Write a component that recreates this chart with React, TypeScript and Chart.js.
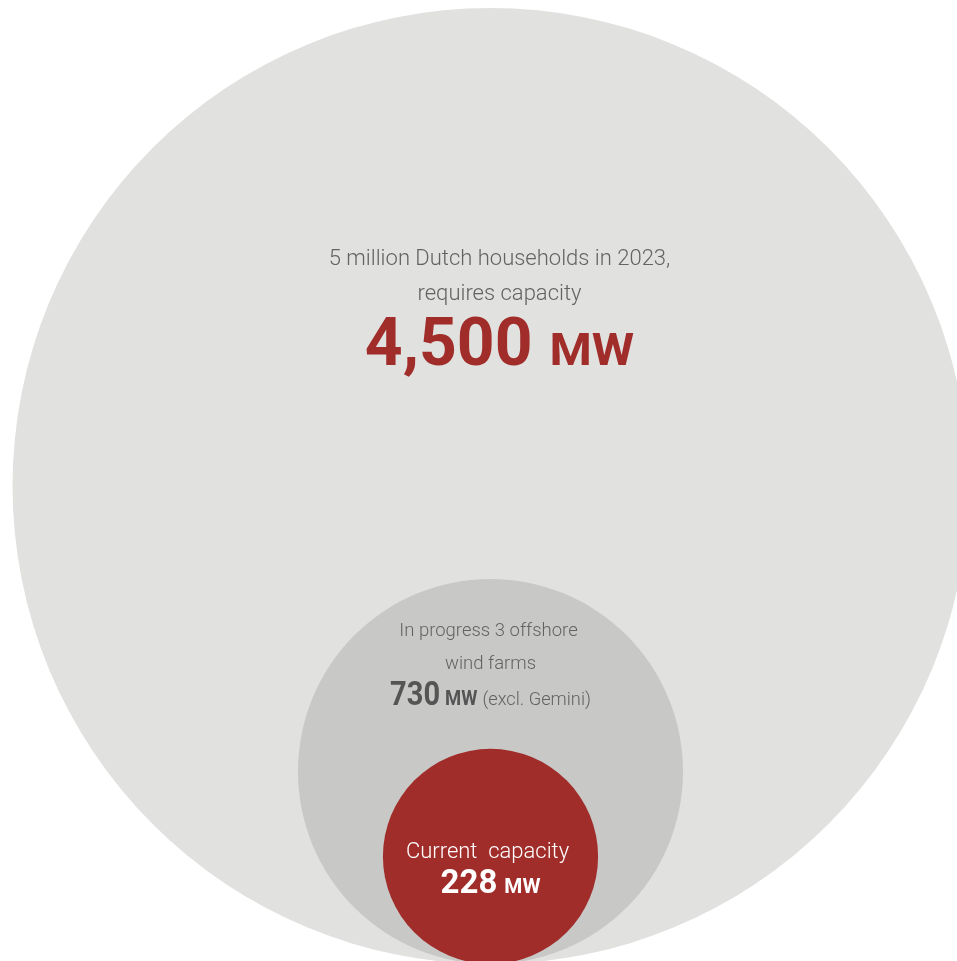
import React, { useEffect, useRef } from "react";
import { Chart, registerables } from "chart.js";

Chart.register(...registerables);

// ---- data ----
const categories = ["Dutch households 2023", "In progress offshore wind", "Current capacity"];
const capacityMW = [4500, 730, 228];
const colors = ["#e1e1e0", "#c8c8c7", "#a12d2b"];

const W = 957;
const H = 961;
const MAX_R = 478;

const FONT = "Roboto, 'DejaVu Sans', sans-serif";

type Run = { text: string; size: number; weight: string; color: string; sx?: number };

function drawRuns(ctx: CanvasRenderingContext2D, runs: Run[], cx: number, baseline: number, gap = 0) {
  let total = 0;
  const widths = runs.map((r) => {
    ctx.font = `${r.weight} ${r.size}px ${FONT}`;
    const w = ctx.measureText(r.text).width * (r.sx ?? 1);
    total += w;
    return w;
  });
  total += gap * (runs.length - 1);
  let x = cx - total / 2;
  runs.forEach((r, i) => {
    ctx.save();
    ctx.font = `${r.weight} ${r.size}px ${FONT}`;
    ctx.fillStyle = r.color;
    ctx.textAlign = "left";
    ctx.textBaseline = "alphabetic";
    ctx.translate(x, baseline);
    ctx.scale(r.sx ?? 1, 1);
    ctx.fillText(r.text, 0, 0);
    ctx.restore();
    x += widths[i] + gap;
  });
}

const fmt = (v: number) => v.toLocaleString("en-US");

const labelPlugin = {
  id: "bubbleLabels",
  afterDatasetsDraw(chart: any) {
    const ctx: CanvasRenderingContext2D = chart.ctx;
    const meta = chart.getDatasetMeta(0);
    const [big, mid, small] = meta.data;
    const grey = "#636363";
    const red = "#a12d2b";
    ctx.save();
    // big circle
    drawRuns(ctx, [{ text: "5 million Dutch households in 2023,", size: 22, weight: "300", color: grey }], big.x + 9, big.y - 221);
    drawRuns(ctx, [{ text: "requires capacity", size: 22, weight: "300", color: grey }], big.x + 9, big.y - 186);
    drawRuns(
      ctx,
      [
        { text: fmt(capacityMW[0]), size: 66, weight: "bold", color: red },
        { text: "MW", size: 44, weight: "bold", color: red, sx: 1.1 },
      ],
      big.x + 9,
      big.y - 121,
      17
    );
    // middle circle
    drawRuns(ctx, [{ text: "In progress 3 offshore", size: 18.5, weight: "300", color: grey }], mid.x - 2, mid.y - 135);
    drawRuns(ctx, [{ text: "wind farms", size: 18.5, weight: "300", color: grey }], mid.x, mid.y - 102);
    drawRuns(
      ctx,
      [
        { text: fmt(capacityMW[1]), size: 33, weight: "bold", color: "#555555", sx: 0.88 },
        { text: "MW", size: 21, weight: "bold", color: "#555555", sx: 0.88 },
        { text: "(excl. Gemini)", size: 19, weight: "300", color: grey, sx: 0.96 },
      ],
      mid.x,
      mid.y - 66,
      5
    );
    // small circle
    drawRuns(ctx, [{ text: "Current  capacity", size: 22, weight: "300", color: "#ffffff" }], small.x - 3, small.y + 2);
    drawRuns(
      ctx,
      [
        { text: fmt(capacityMW[2]), size: 33, weight: "bold", color: "#ffffff" },
        { text: "MW", size: 20, weight: "bold", color: "#ffffff", sx: 1.03 },
      ],
      small.x,
      small.y + 37,
      7
    );
    ctx.restore();
  },
};

export default function App() {
  const ref = useRef<HTMLCanvasElement | null>(null);
  useEffect(() => {
    if (!ref.current) return;
    const maxV = Math.max(...capacityMW);
    const radii = capacityMW.map((v) => MAX_R * Math.sqrt(v / maxV));
    const chart = new Chart(ref.current, {
      type: "bubble",
      data: {
        labels: categories,
        datasets: [
          {
            label: "Capacity (MW)",
            data: capacityMW.map((v, i) => ({ x: 490.5, y: radii[i], r: radii[i] })),
            backgroundColor: colors,
            borderWidth: 0,
            hoverBorderWidth: 0,
          },
        ],
      },
      options: {
        responsive: false,
        animation: false,
        events: [],
        layout: { padding: 0, autoPadding: false },
        plugins: { legend: { display: false }, tooltip: { enabled: false }, title: { display: false } },
        scales: {
          x: { type: "linear", min: 0, max: W, display: false },
          y: { type: "linear", min: 3, max: H + 3, display: false },
        },
      },
      plugins: [labelPlugin],
    });
    return () => chart.destroy();
  }, []);
  return (
    <div style={{ position: "fixed", left: 0, top: 0, width: W, height: H, background: "#fff" }}>
      <canvas ref={ref} width={W} height={H} style={{ display: "block", width: W, height: H }} />
    </div>
  );
}
